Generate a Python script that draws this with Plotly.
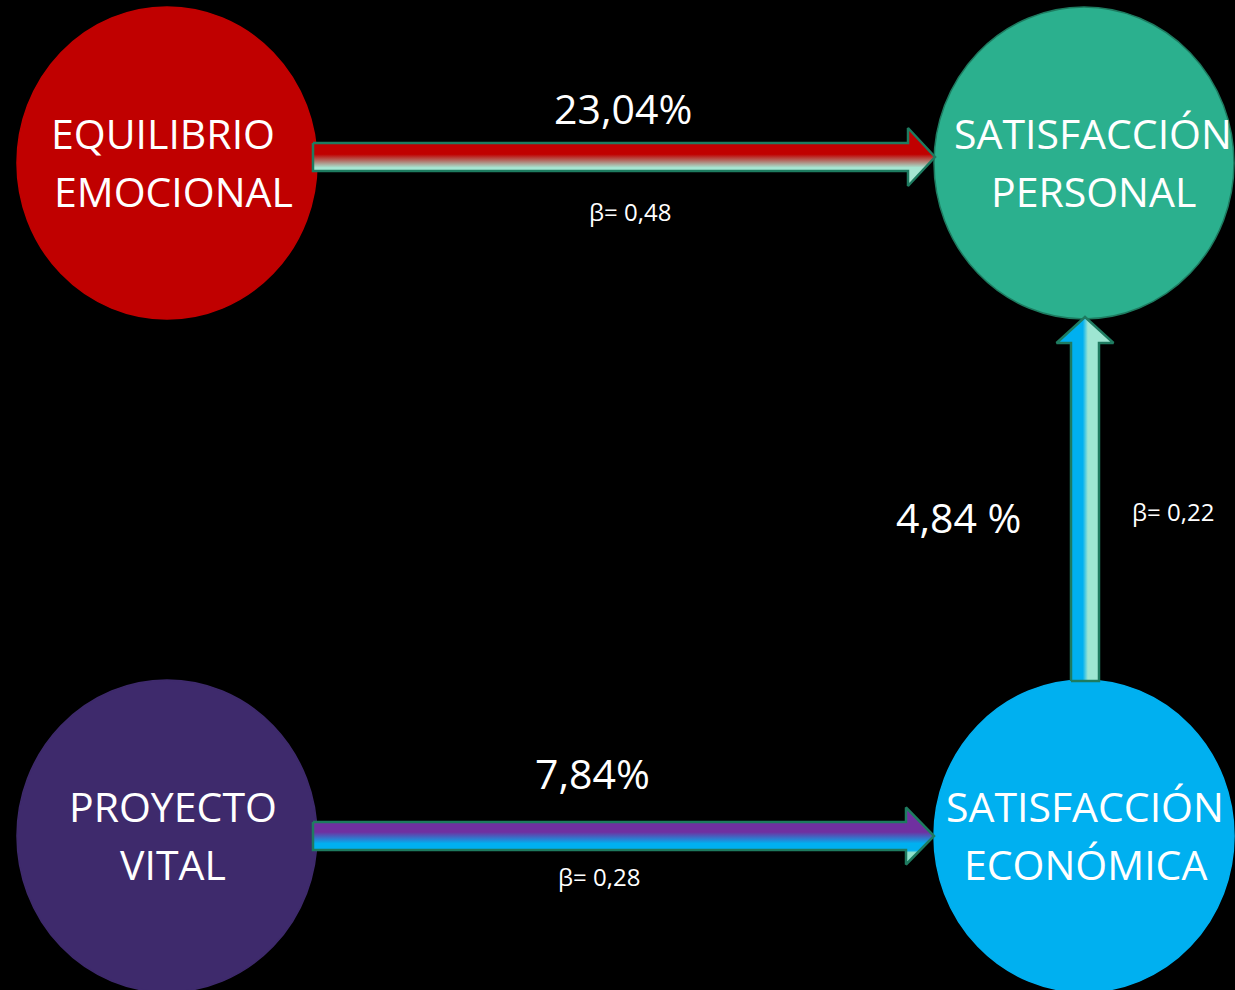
import plotly.graph_objects as go

# ---- data ----
node_names = ["EQUILIBRIO<br>EMOCIONAL", "SATISFACCIÓN<br>PERSONAL", "PROYECTO<br>VITAL", "SATISFACCIÓN<br>ECONÓMICA"]
path_pct = ["23,04%", "7,84%", "4,84 %"]
path_beta = ["β= 0,48", "β= 0,28", "β= 0,22"]

# ---- layout / style (pixel space) ----
W, H = 1235, 990
node_pos = [(167, 163), (1084, 163), (167, 836), (1084, 836)]
node_rx, node_ry = 150, 156
node_colors = ["#C00000", "#2BB08E", "#3E2A6C", "#00B0F0"]
node_line = [None, "#1E7B60", None, None]
text_dx = [-4, 9, 6, 1]
line_gap = 58

fig = go.Figure()

for i, (cx, cy) in enumerate(node_pos):
    fig.add_shape(type="circle", xref="x", yref="y",
                  x0=cx - node_rx, x1=cx + node_rx, y0=cy - node_ry, y1=cy + node_ry,
                  fillcolor=node_colors[i],
                  line=dict(color=node_line[i] or node_colors[i], width=1.5),
                  layer="below")
    lines = node_names[i].split("<br>")
    for j, ln in enumerate(lines):
        fig.add_annotation(x=cx + text_dx[i] + (10 if (i == 0 and j == 1) else 0),
                           y=cy - line_gap / 2 + j * line_gap - 1,
                           text=ln, showarrow=False, xref="x", yref="y",
                           font=dict(family="Open Sans", size=41, color="white"))

outline = "#1E7B60"

def harrow(x0, x1, yc, shaft_h, head_w, head_h):
    xs = [x0, x1 - head_w, x1 - head_w, x1, x1 - head_w, x1 - head_w, x0, x0]
    ys = [yc - shaft_h / 2, yc - shaft_h / 2, yc - head_h / 2, yc, yc + head_h / 2,
          yc + shaft_h / 2, yc + shaft_h / 2, yc - shaft_h / 2]
    return xs, ys

def varrow(xc, y0, y1, shaft_w, head_h, head_w):
    xs = [xc - shaft_w / 2, xc - shaft_w / 2, xc - head_w / 2, xc, xc + head_w / 2,
          xc + shaft_w / 2, xc + shaft_w / 2, xc - shaft_w / 2]
    ys = [y0, y1 + head_h, y1 + head_h, y1, y1 + head_h, y1 + head_h, y0, y0]
    return xs, ys

# arrow 1: equilibrio -> personal
xs, ys = harrow(node_pos[0][0] + node_rx - 4, node_pos[1][0] - node_rx + 1, 157, 28, 27, 58)
fig.add_trace(go.Scatter(x=xs, y=ys, mode="lines", fill="toself",
                         line=dict(color=outline, width=2.5),
                         fillgradient=dict(type="vertical", start=127, stop=185,
                                           colorscale=[[0, "#C00000"], [0.47, "#C00000"],
                                                       [0.7, "#A6E6D2"], [1, "#A6E6D2"]]),
                         hoverinfo="skip", showlegend=False))

# arrow 2: proyecto -> economica
xs, ys = harrow(node_pos[2][0] + node_rx - 4, node_pos[3][0] - node_rx, 836, 28, 28, 57)
fig.add_trace(go.Scatter(x=xs, y=ys, mode="lines", fill="toself",
                         line=dict(color=outline, width=2.5),
                         fillgradient=dict(type="vertical", start=807, stop=864,
                                           colorscale=[[0, "#7030A0"], [0.44, "#7030A0"],
                                                       [0.64, "#00B0F0"], [0.76, "#00B0F0"],
                                                       [0.8, "#90E2CC"], [1, "#90E2CC"]]),
                         hoverinfo="skip", showlegend=False))

# arrow 3: economica -> personal
xs, ys = varrow(1085, node_pos[3][1] - node_ry + 1, node_pos[1][1] + node_ry - 2, 28, 26, 57)
fig.add_trace(go.Scatter(x=xs, y=ys, mode="lines", fill="toself",
                         line=dict(color=outline, width=2.5),
                         fillgradient=dict(type="horizontal", start=1056, stop=1113,
                                           colorscale=[[0, "#00B0F0"], [0.47, "#00B0F0"],
                                                       [0.56, "#9EE6D2"], [1, "#9EE6D2"]]),
                         hoverinfo="skip", showlegend=False))

# path labels
pct_pos = [(623, 108), (592, 773), (958, 517)]
beta_pos = [(630, 211), (599, 876), (1173, 511)]
for k in range(3):
    fig.add_annotation(x=pct_pos[k][0], y=pct_pos[k][1], text=path_pct[k], showarrow=False,
                       font=dict(family="Open Sans", size=41, color="white"))
    fig.add_annotation(x=beta_pos[k][0], y=beta_pos[k][1], text=path_beta[k], showarrow=False,
                       font=dict(family="Open Sans", size=24, color="white"))

fig.update_layout(width=W, height=H, margin=dict(l=0, r=0, t=0, b=0),
                  paper_bgcolor="black", plot_bgcolor="black",
                  xaxis=dict(range=[0, W], visible=False, fixedrange=True),
                  yaxis=dict(range=[H, 0], visible=False, fixedrange=True),
                  showlegend=False)

fig.write_html("out.html", config={"displayModeBar": False},
               post_script="document.body.style.margin='0';document.body.style.overflow='hidden';document.body.style.background='black';")
